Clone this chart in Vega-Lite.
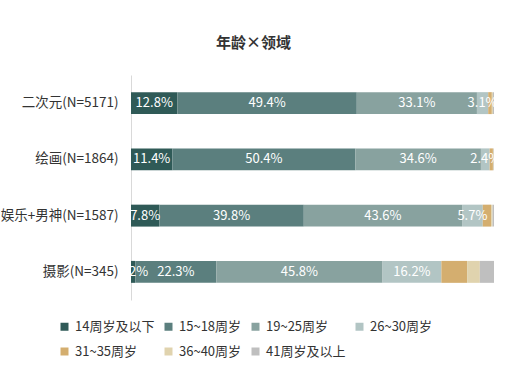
{
  "$schema": "https://vega.github.io/schema/vega-lite/v6.json",
  "width": 363,
  "height": 225,
  "autosize": "none",
  "padding": {"left": 131, "top": 75, "right": 28, "bottom": 78},
  "background": "white",
  "config": {
    "font": "Noto Sans CJK SC",
    "view": {"stroke": null}
  },
  "title": {
    "text": "年龄×领域",
    "fontSize": 15,
    "fontWeight": "bold",
    "color": "#333333",
    "anchor": "middle",
    "dx": -59,
    "offset": 24
  },
  "data": {
    "values": [
      {"d": "二次元(N=5171)", "a": "14周岁及以下", "v": 0.128},
      {"d": "二次元(N=5171)", "a": "15~18周岁", "v": 0.494},
      {"d": "二次元(N=5171)", "a": "19~25周岁", "v": 0.331},
      {"d": "二次元(N=5171)", "a": "26~30周岁", "v": 0.031},
      {"d": "二次元(N=5171)", "a": "31~35周岁", "v": 0.010},
      {"d": "二次元(N=5171)", "a": "36~40周岁", "v": 0.003},
      {"d": "二次元(N=5171)", "a": "41周岁及以上", "v": 0.003},
      {"d": "绘画(N=1864)", "a": "14周岁及以下", "v": 0.114},
      {"d": "绘画(N=1864)", "a": "15~18周岁", "v": 0.504},
      {"d": "绘画(N=1864)", "a": "19~25周岁", "v": 0.346},
      {"d": "绘画(N=1864)", "a": "26~30周岁", "v": 0.024},
      {"d": "绘画(N=1864)", "a": "31~35周岁", "v": 0.009},
      {"d": "绘画(N=1864)", "a": "36~40周岁", "v": 0.002},
      {"d": "绘画(N=1864)", "a": "41周岁及以上", "v": 0.001},
      {"d": "娱乐+男神(N=1587)", "a": "14周岁及以下", "v": 0.078},
      {"d": "娱乐+男神(N=1587)", "a": "15~18周岁", "v": 0.398},
      {"d": "娱乐+男神(N=1587)", "a": "19~25周岁", "v": 0.436},
      {"d": "娱乐+男神(N=1587)", "a": "26~30周岁", "v": 0.057},
      {"d": "娱乐+男神(N=1587)", "a": "31~35周岁", "v": 0.023},
      {"d": "娱乐+男神(N=1587)", "a": "36~40周岁", "v": 0.004},
      {"d": "娱乐+男神(N=1587)", "a": "41周岁及以上", "v": 0.004},
      {"d": "摄影(N=345)", "a": "14周岁及以下", "v": 0.012},
      {"d": "摄影(N=345)", "a": "15~18周岁", "v": 0.223},
      {"d": "摄影(N=345)", "a": "19~25周岁", "v": 0.458},
      {"d": "摄影(N=345)", "a": "26~30周岁", "v": 0.162},
      {"d": "摄影(N=345)", "a": "31~35周岁", "v": 0.071},
      {"d": "摄影(N=345)", "a": "36~40周岁", "v": 0.035},
      {"d": "摄影(N=345)", "a": "41周岁及以上", "v": 0.039}
    ]
  },
  "encoding": {
    "y": {
      "field": "d",
      "type": "nominal",
      "sort": ["二次元(N=5171)", "绘画(N=1864)", "娱乐+男神(N=1587)", "摄影(N=345)"],
      "scale": {"paddingInner": 0.61, "paddingOuter": 0.305},
      "axis": {
        "title": null,
        "ticks": false,
        "domainColor": "#d9d9d9",
        "domainWidth": 1,
        "labelPadding": 13,
        "labelFontSize": 13.5,
        "labelColor": "#333333",
        "labelFont": "Noto Sans CJK SC",
        "labelLimit": 200
      }
    },
    "x": {
      "field": "v",
      "type": "quantitative",
      "stack": "zero",
      "scale": {"domain": [0, 1], "nice": false},
      "axis": null
    },
    "order": {"field": "a", "sort": "ascending"}
  },
  "layer": [
    {
      "mark": {"type": "bar"},
      "encoding": {
        "color": {
          "field": "a",
          "type": "nominal",
          "scale": {
            "domain": ["14周岁及以下", "15~18周岁", "19~25周岁", "26~30周岁", "31~35周岁", "36~40周岁", "41周岁及以上"],
            "range": ["#2f5a57", "#5b7f7e", "#88a29f", "#b2c5c4", "#d4ae6f", "#e0d3ae", "#bfbfbf"]
          },
          "legend": {
            "title": null,
            "orient": "none",
            "legendX": -73,
            "legendY": 245,
            "direction": "horizontal",
            "columns": 4,
            "gridAlign": "each",
            "columnPadding": 7,
            "rowPadding": 11,
            "symbolType": "square",
            "symbolSize": 64,
            "symbolStrokeWidth": 0,
            "symbolOffset": 0,
            "labelOffset": 4,
            "labelFontSize": 13,
            "labelColor": "#333333",
            "labelFont": "Noto Sans CJK SC",
            "labelLimit": 200
          }
        }
      }
    },
    {
      "transform": [
        {"filter": {"field": "a", "oneOf": ["14周岁及以下", "15~18周岁", "19~25周岁", "26~30周岁"]}}
      ],
      "mark": {"type": "text", "color": "white", "fontSize": 13, "clip": true, "align": "center", "baseline": "middle", "font": "Noto Sans CJK SC"},
      "encoding": {
        "x": {
          "field": "v",
          "type": "quantitative",
          "stack": "zero",
          "bandPosition": 0.5,
          "scale": {"domain": [0, 1], "nice": false},
          "axis": null
        },
        "text": {"field": "v", "type": "quantitative", "format": ".1%"}
      }
    }
  ]
}
